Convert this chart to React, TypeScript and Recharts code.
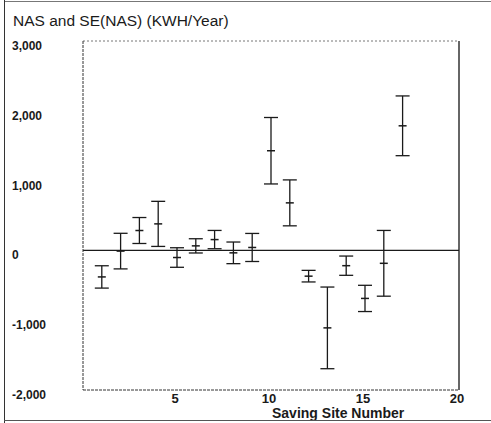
import { ScatterChart, Scatter, XAxis, YAxis, ErrorBar, ReferenceLine } from 'recharts';

const sites = [1, 2, 3, 4, 5, 6, 7, 8, 9, 10, 11, 12, 13, 14, 15, 16, 17];
const nas = [-380, -10, 285, 380, -102, 65, 155, -35, 42, 1428, 681, -369, -1110, -219, -688, -185, 1785];
const se = [160, 255, 186, 323, 140, 102, 131, 155, 201, 476, 329, 83, 585, 138, 188, 471, 428];

const yTicks = [-2000, -1000, 0, 1000, 2000, 3000];
const xTicks = [5, 10, 15, 20];

const data = sites.map((site, i) => ({ site, nas: nas[i], se: se[i] }));

const font = "'Liberation Sans Narrow', 'Liberation Sans', Arial, sans-serif";
const ink = '#1a1a1a';

const YTick = ({ y, payload }: any) => (
  <text x={12} y={y + 9} fill={ink} fontSize={12} fontWeight="bold" fontFamily={font} textAnchor="start">
    {payload.value.toLocaleString('en-US')}
  </text>
);

const XTick = ({ x, y, payload }: any) => (
  <text x={x - 2} y={y + 5} fill={ink} fontSize={13} fontWeight="bold" fontFamily={font} textAnchor="middle">
    {payload.value}
  </text>
);

const Mark = ({ cx, cy }: any) => (
  <line x1={cx - 4} x2={cx + 4} y1={cy} y2={cy} stroke={ink} strokeWidth={1.5} />
);

export default function App() {
  return (
    <div style={{ position: 'absolute', left: 0, top: 0, width: 491, height: 423, background: '#fff', overflow: 'hidden' }}>
      <ScatterChart width={491} height={423} margin={{ top: 41, right: 32, left: 0, bottom: 0 }}>
        <XAxis
          type="number"
          dataKey="site"
          domain={[0, 20]}
          ticks={xTicks}
          height={33}
          tick={<XTick />}
          tickLine={false}
          axisLine={{ stroke: '#333', strokeDasharray: '3 1' }}
        />
        <YAxis
          type="number"
          dataKey="nas"
          domain={[-2000, 3000]}
          ticks={yTicks}
          width={83}
          tick={<YTick />}
          tickLine={false}
          axisLine={{ stroke: '#333', strokeDasharray: '3 1' }}
        />
        <ReferenceLine y={3000} stroke="#777" strokeDasharray="2 2" />
        <ReferenceLine x={20} stroke="#333" strokeWidth={1.5} />
        <ReferenceLine y={0} stroke={ink} strokeWidth={1.2} />
        <Scatter data={data} shape={<Mark />} isAnimationActive={false}>
          <ErrorBar dataKey="se" direction="y" width={7} stroke={ink} strokeWidth={1.3} isAnimationActive={false} />
        </Scatter>
      </ScatterChart>
      <div
        style={{
          position: 'absolute', left: 13, top: 13, fontSize: 15.5, lineHeight: '15px', zIndex: 2,
          fontFamily: "'Liberation Sans', Arial, sans-serif", color: ink, whiteSpace: 'nowrap',
        }}
      >
        NAS and SE(NAS) (KWH/Year)
      </div>
      <div
        style={{
          position: 'absolute', left: 272, top: 406, fontSize: 14, lineHeight: '14px', zIndex: 2,
          fontFamily: font, fontWeight: 'bold', color: ink, whiteSpace: 'nowrap',
        }}
      >
        Saving Site Number
      </div>
      <div style={{ position: 'absolute', left: 4, top: 1, width: 487, height: 1, background: '#777', zIndex: 3 }} />
      <div style={{ position: 'absolute', left: 4, top: 0, width: 1, height: 423, background: '#333', zIndex: 3 }} />
      <div style={{ position: 'absolute', left: 4, top: 420, width: 487, height: 1, background: '#555', zIndex: 3 }} />
    </div>
  );
}
